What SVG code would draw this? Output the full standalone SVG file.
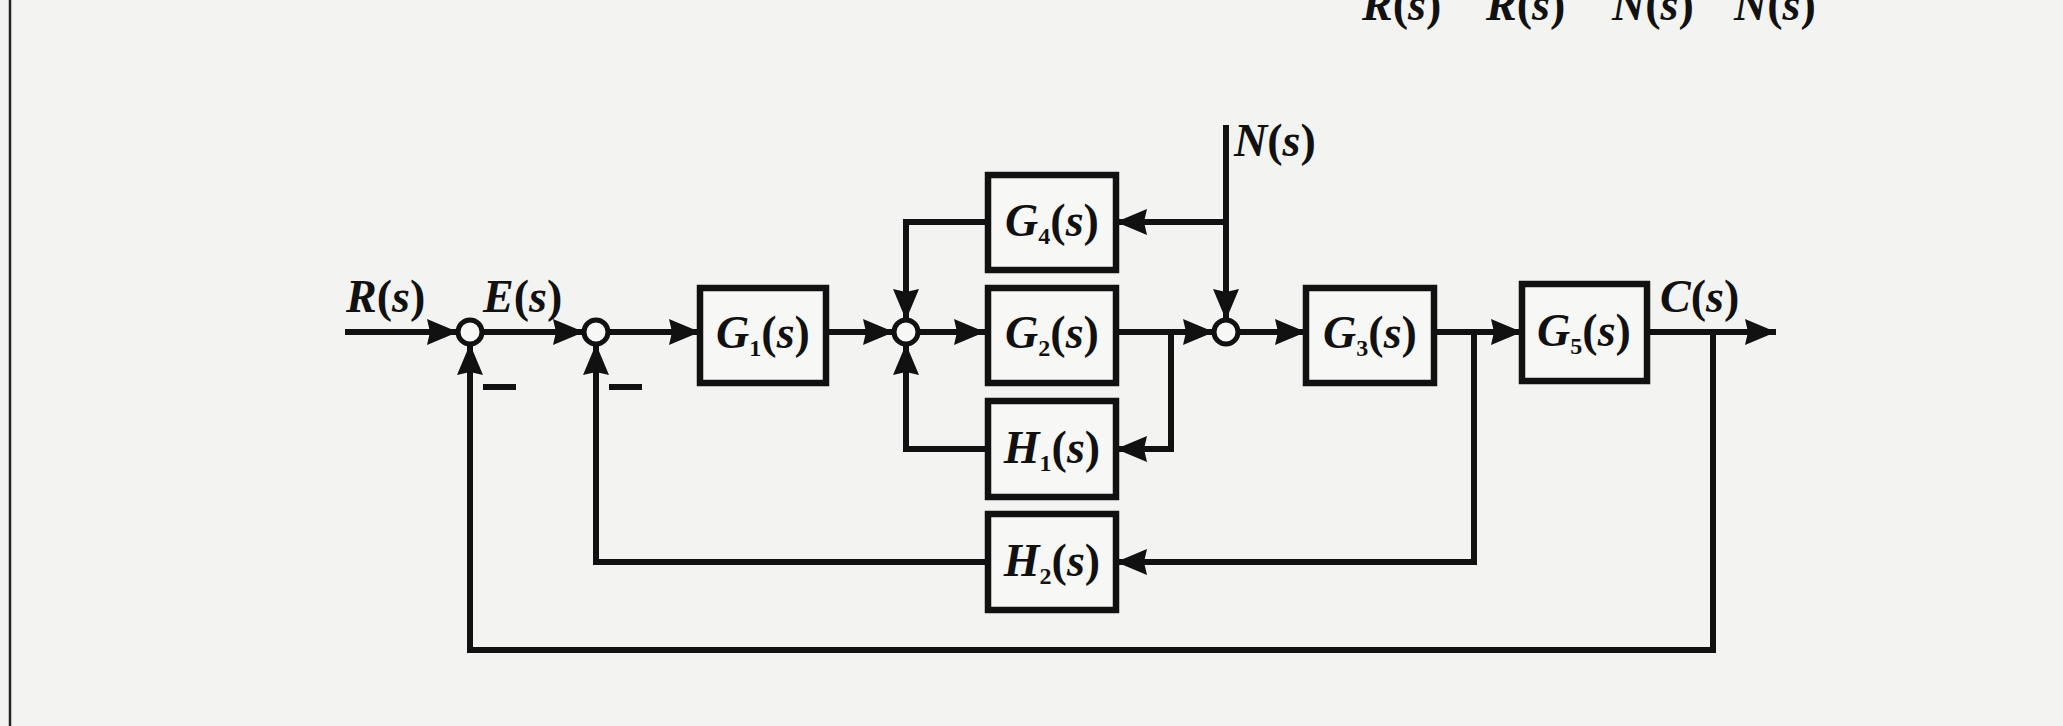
<svg xmlns="http://www.w3.org/2000/svg" width="2063" height="726" viewBox="0 0 2063 726">
<style>
.bg{fill:#f3f3f2}
.box{fill:#f7f7f6;stroke:#111;stroke-width:6.5}
.sum{fill:#f7f7f6;stroke:#111;stroke-width:5}
.wire{fill:none;stroke:#111;stroke-width:6;stroke-linejoin:miter}
.arr{marker-end:url(#ah)}
.lbl{font-family:"Liberation Serif",serif;font-size:46px;fill:#111;font-weight:bold}
.it{font-style:italic}
.up{font-style:normal}
.sub{font-size:24px;font-style:normal}
.minus{stroke:#111;stroke-width:6}
</style>
<defs>
<marker id="ah" markerUnits="userSpaceOnUse" markerWidth="34" markerHeight="30" refX="31" refY="15" orient="auto" overflow="visible">
<path d="M0,2 L31,15 L0,28 L3,15 Z" fill="#111"/>
</marker>
</defs>
<rect class="bg" x="0" y="0" width="2063" height="726"/>
<line x1="10" y1="0" x2="10" y2="726" stroke="#222" stroke-width="2.5"/>
<g id="top-partial" class="lbl it">
<text x="1362" y="20">R<tspan class="up">(</tspan>s<tspan class="up">)</tspan></text>
<text x="1486" y="20">R<tspan class="up">(</tspan>s<tspan class="up">)</tspan></text>
<text x="1612" y="20">N<tspan class="up">(</tspan>s<tspan class="up">)</tspan></text>
<text x="1734" y="20">N<tspan class="up">(</tspan>s<tspan class="up">)</tspan></text>
</g>
<g id="connectors">
<path class="wire arr" d="M345 332 H458"/>
<path class="wire arr" d="M482 332 H584"/>
<path class="wire arr" d="M608 332 H700"/>
<path class="wire arr" d="M826 332 H894"/>
<path class="wire arr" d="M918 332 H985"/>
<path class="wire arr" d="M1116 332 H1214"/>
<path class="wire arr" d="M1238 332 H1306"/>
<path class="wire arr" d="M1434 332 H1522"/>
<path class="wire arr" d="M1647 332 H1776"/>
<path class="wire arr" d="M1226 125 V320"/>
<path class="wire arr" d="M1226 222 H1116"/>
<path class="wire arr" d="M988 222 H906 V320"/>
<path class="wire arr" d="M1171 332 V449 H1116"/>
<path class="wire arr" d="M988 449 H906 V344"/>
<path class="wire arr" d="M1474 332 V562 H1116"/>
<path class="wire arr" d="M988 562 H596 V344"/>
<path class="wire arr" d="M1713 332 V650 H470 V344"/>
</g>
<g id="sum1"><circle class="sum" cx="470" cy="332" r="12"/><line class="minus" x1="483" y1="387" x2="516" y2="387"/></g>
<g id="sum2"><circle class="sum" cx="596" cy="332" r="12"/><line class="minus" x1="609" y1="387" x2="642" y2="387"/></g>
<g id="sum3"><circle class="sum" cx="906" cy="332" r="12"/></g>
<g id="sum4"><circle class="sum" cx="1226" cy="332" r="12"/></g>
<g id="G1"><rect class="box" x="700" y="288" width="126" height="95"/>
<text class="lbl" x="763" y="348" text-anchor="middle"><tspan class="it">G</tspan><tspan class="sub" dy="8">1</tspan><tspan dy="-8">(</tspan><tspan class="it">s</tspan><tspan>)</tspan></text></g>
<g id="G2"><rect class="box" x="988" y="288" width="128" height="95"/>
<text class="lbl" x="1052" y="348" text-anchor="middle"><tspan class="it">G</tspan><tspan class="sub" dy="8">2</tspan><tspan dy="-8">(</tspan><tspan class="it">s</tspan><tspan>)</tspan></text></g>
<g id="G4"><rect class="box" x="988" y="175" width="128" height="95"/>
<text class="lbl" x="1052" y="236" text-anchor="middle"><tspan class="it">G</tspan><tspan class="sub" dy="8">4</tspan><tspan dy="-8">(</tspan><tspan class="it">s</tspan><tspan>)</tspan></text></g>
<g id="H1"><rect class="box" x="988" y="401" width="128" height="96"/>
<text class="lbl" x="1052" y="463" text-anchor="middle"><tspan class="it">H</tspan><tspan class="sub" dy="8">1</tspan><tspan dy="-8">(</tspan><tspan class="it">s</tspan><tspan>)</tspan></text></g>
<g id="H2"><rect class="box" x="988" y="514" width="128" height="96"/>
<text class="lbl" x="1052" y="576" text-anchor="middle"><tspan class="it">H</tspan><tspan class="sub" dy="8">2</tspan><tspan dy="-8">(</tspan><tspan class="it">s</tspan><tspan>)</tspan></text></g>
<g id="G3"><rect class="box" x="1306" y="288" width="128" height="95"/>
<text class="lbl" x="1370" y="348" text-anchor="middle"><tspan class="it">G</tspan><tspan class="sub" dy="8">3</tspan><tspan dy="-8">(</tspan><tspan class="it">s</tspan><tspan>)</tspan></text></g>
<g id="G5"><rect class="box" x="1522" y="284" width="125" height="97"/>
<text class="lbl" x="1584" y="346" text-anchor="middle"><tspan class="it">G</tspan><tspan class="sub" dy="8">5</tspan><tspan dy="-8">(</tspan><tspan class="it">s</tspan><tspan>)</tspan></text></g>
<g id="labels" class="lbl it">
<text x="346" y="312">R<tspan class="up">(</tspan>s<tspan class="up">)</tspan></text>
<text x="483" y="312">E<tspan class="up">(</tspan>s<tspan class="up">)</tspan></text>
<text x="1660" y="312">C<tspan class="up">(</tspan>s<tspan class="up">)</tspan></text>
<text x="1234" y="156">N<tspan class="up">(</tspan>s<tspan class="up">)</tspan></text>
</g>
</svg>
